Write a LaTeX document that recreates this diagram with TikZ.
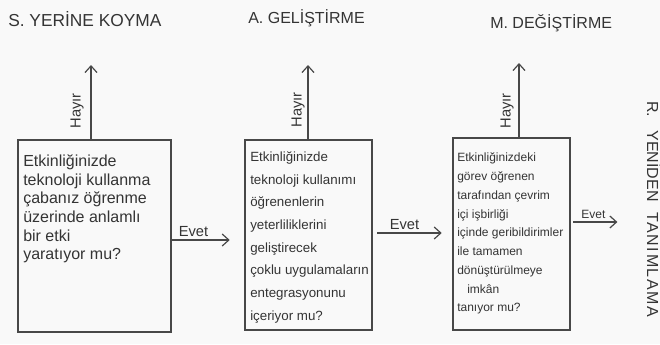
\documentclass[tikz,border=0pt]{standalone}
\usepackage{fontspec}
\setmainfont{Liberation Sans}
\usetikzlibrary{arrows.meta}
\definecolor{ink}{RGB}{72,72,72}
\definecolor{txt}{RGB}{52,52,52}
\definecolor{paper}{RGB}{249,249,249}
\begin{document}
\begin{tikzpicture}[x=0.75pt,y=-0.75pt,
  qbox/.style={draw=ink,line width=0.9pt,inner sep=0pt},
  qtext/.style={anchor=north west,align=left,inner sep=0pt,text=txt},
  arr/.style={draw=ink,line width=0.9pt,-{Straight Barb[length=5pt,width=9pt,line width=0.9pt]}},
  title/.style={anchor=base west,inner sep=0pt,text=txt},
  hlabel/.style={rotate=90,inner sep=0pt,text=txt,font=\fontsize{11pt}{13pt}\selectfont},
  elabel/.style={above,inner sep=2pt,text=txt,font=\fontsize{11pt}{13pt}\selectfont}]
\fill[paper] (0,0) rectangle (660,344);
\useasboundingbox (0,0) rectangle (660,344);

% titles
\node[title,font=\fontsize{13pt}{15pt}\selectfont] (ts) at (8,26) {S. YERİNE KOYMA};
\node[title,font=\fontsize{12pt}{14pt}\selectfont] (ta) at (248,23) {A. GELİŞTİRME};
\node[title,font=\fontsize{12pt}{14pt}\selectfont] (tm) at (490,28) {M. DEĞİŞTİRME};
\node[title,rotate=-90,font=\fontsize{12pt}{14pt}\selectfont] (tr) at (647,101)
  {R.\hspace{10pt}YENİDEN\hspace{8pt}{\addfontfeature{LetterSpace=10}TANIMLAMA}};

% boxes
\node[qbox,minimum width=114.75pt,minimum height=144pt] (b1) at (94.5,236) {};
\node[qbox,minimum width=95.25pt,minimum height=142.5pt] (b2) at (308.5,235) {};
\node[qbox,minimum width=87.75pt,minimum height=144pt] (b3) at (511.5,234) {};

% box texts
\node[qtext,font=\fontsize{12pt}{14pt}\selectfont] (x1) at (23,154.5)
 {Etkinliğinizde\\teknoloji kullanma\\çabanız öğrenme\\üzerinde anlamlı\\bir etki\\yaratıyor mu?};
\node[qtext,font=\fontsize{10pt}{17pt}\selectfont] (x2) at (250,151.3)
 {Etkinliğinizde\\teknoloji kullanımı\\öğrenenlerin\\yeterliliklerini\\geliştirecek\\çoklu uygulamaların\\entegrasyonunu\\içeriyor mu?};
\node[qtext,font=\fontsize{9pt}{14.06pt}\selectfont] (x3) at (457,152.7)
 {Etkinliğinizdeki\\görev öğrenen\\tarafından çevrim\\içi işbirliği\\içinde geribildirimler\\ile tamamen\\dönüştürülmeye\\\hspace*{7.5pt}imkân\\tanıyor mu?};

% Hayir arrows
\coordinate (h1) at (91,65);
\coordinate (h2) at (308,65);
\coordinate (h3) at (519,63);
\draw[arr] (h1 |- b1.north) -- (h1);
\draw[arr] (h2 |- b2.north) -- (h2);
\draw[arr] (h3 |- b3.north) -- (h3);
\node[hlabel] (l1) at (77,111) {Hayır};
\node[hlabel] (l2) at (298,110) {Hayır};
\node[hlabel] (l3) at (507,111) {Hayır};

% Evet arrows
\coordinate (y1) at (0,240);
\coordinate (y2) at (0,233);
\coordinate (y3) at (0,222);
\draw[arr,shorten >=11pt] (b1.east |- y1) -- (b2.west |- y1) node[elabel,pos=0.3] (e1) {Evet};
\draw[arr,shorten <=3.5pt,shorten >=8pt] (b2.east |- y2) -- (b3.west |- y2) node[elabel,pos=0.4] (e2) {Evet};
\draw[arr,shorten <=2pt,shorten >=22pt] (b3.east |- y3) -- (tr.south |- y3) node[elabel,pos=0.3,font=\fontsize{9pt}{11pt}\selectfont] (e3) {Evet};
\end{tikzpicture}
\end{document}
